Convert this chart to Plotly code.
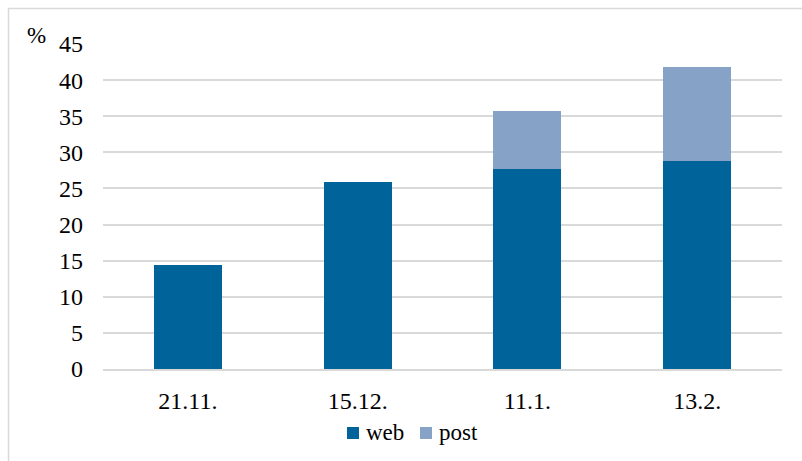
import plotly.graph_objects as go

# Survey dates and response shares (%) by channel
dates = ["21.11.", "15.12.", "11.1.", "13.2."]
web = [14.4, 25.9, 27.7, 28.8]
post = [0, 0, 8.0, 13.0]
series_names = ["web", "post"]
y_ticks = [0, 5, 10, 15, 20, 25, 30, 35, 40, 45]

WEB_COLOR = "#00639A"
POST_COLOR = "#86A3C7"
GRID = "#D9D9D9"
FONT = "Liberation Serif"
FS = 24

W, H = 802, 461
L, R, T, B = 103, 20, 44, 92
pw, ph = W - L - R, H - T - B

def px_x(p):
    return (p - L) / pw

def px_y(p):
    return (H - B - p) / ph

fig = go.Figure()
fig.add_bar(x=dates, y=web, name=series_names[0], marker=dict(color=WEB_COLOR, line=dict(width=0)))
fig.add_bar(x=dates, y=post, name=series_names[1], marker=dict(color=POST_COLOR, line=dict(width=0)))

fig.update_layout(
    width=W, height=H,
    margin=dict(l=L, r=R, t=T, b=B, pad=0),
    barmode="stack",
    bargap=0.6,
    plot_bgcolor="white",
    paper_bgcolor="white",
    font=dict(family=FONT, size=FS, color="black"),
    showlegend=False,
    xaxis=dict(
        showgrid=False,
        showline=True, linecolor=GRID, linewidth=2,
        ticks="", ticklabelstandoff=9,
        tickfont=dict(family=FONT, size=FS, color="black"),
    ),
    yaxis=dict(
        range=[0, 45],
        tickvals=y_ticks,
        showgrid=True, gridcolor=GRID, gridwidth=2,
        zeroline=False, showline=False,
        ticks="", ticklabelstandoff=19,
        tickfont=dict(family=FONT, size=FS, color="black"),
    ),
)

# Compact legend below the axis: colour square followed by the series name
legend_items = [(series_names[0], WEB_COLOR, 347), (series_names[1], POST_COLOR, 420)]
for name, color, sx in legend_items:
    fig.add_shape(
        type="rect", xref="paper", yref="paper",
        x0=px_x(sx), x1=px_x(sx + 12), y0=px_y(439), y1=px_y(427),
        line=dict(width=0), fillcolor=color,
    )
    fig.add_annotation(
        text=name, xref="paper", yref="paper",
        x=px_x(sx + 17), y=px_y(432), xanchor="left", yanchor="middle",
        showarrow=False, font=dict(family=FONT, size=23, color="black"),
    )

# Unit label above the y axis
fig.add_annotation(
    text="%", xref="paper", yref="paper",
    x=px_x(36), y=px_y(35), xanchor="center", yanchor="middle",
    showarrow=False, font=dict(family=FONT, size=23, color="black"),
)

# Chart frame
fig.add_shape(
    type="rect", xref="paper", yref="paper",
    x0=px_x(8.5), y0=px_y(470), x1=px_x(810), y1=px_y(8.5),
    line=dict(color=GRID, width=1.5), fillcolor="rgba(0,0,0,0)", layer="below",
)

fig.write_html("out.html")
